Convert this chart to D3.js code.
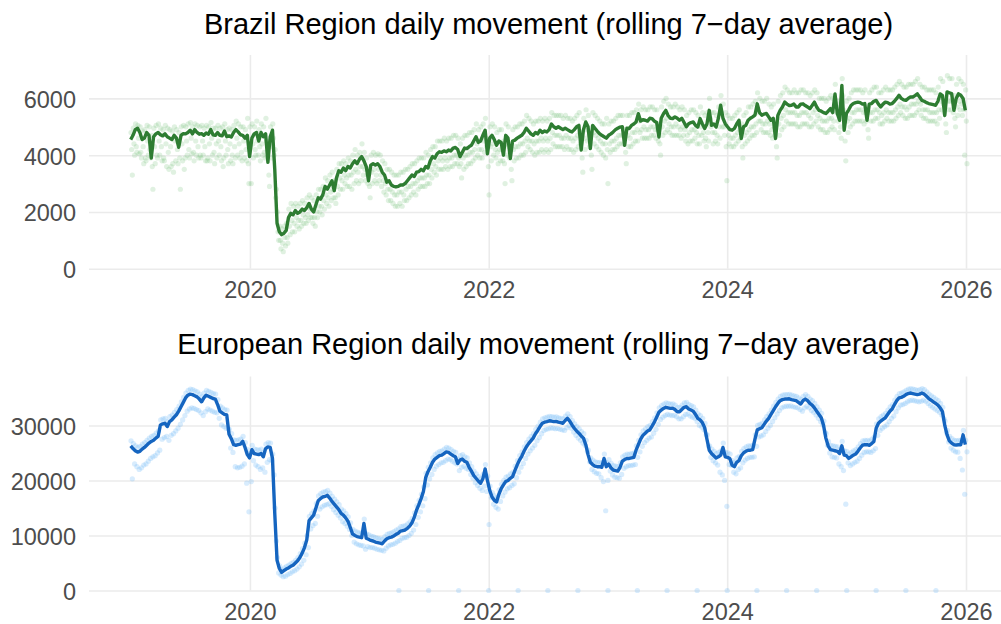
<!DOCTYPE html>
<html>
<head>
<meta charset="utf-8">
<script src="https://cdn.jsdelivr.net/npm/d3@7"></script>
<style>
  body { margin: 0; background: #fff; }
  svg { display: block; }
  text { font-family: "Liberation Sans", Arial, sans-serif; }
</style>
</head>
<body>
<div id="chart"></div>
<script>
// weekly samples, first one on 2019-01-01
var firstWeek = "2019-01-01";

var brTitle = "Brazil Region daily movement (rolling 7\u2212day average)";
var euTitle = "European Region daily movement (rolling 7\u2212day average)";

var yearTicks = ["2020-01-01", "2022-01-01", "2024-01-01", "2026-01-01"];
var brTicks = [0, 2000, 4000, 6000];
var euTicks = [0, 10000, 20000, 30000];

// Brazil: rolling average, one value per week
var brLine = [
  // 2019
  4550,4700,4900,4950,4800,4550,4600,4800,4700,3900,4650,4750,4800,4720,4680,4750,4650,4600,4550,4700,4600,4280,4700,4760,4750,4800,
  4880,4750,4900,4800,4740,4760,4700,4780,4740,4900,4720,4700,4800,4700,4680,4850,4650,4680,4640,4800,4900,4820,4720,4700,4600,4700,
  // 2020
  3950,4600,4750,4800,4500,4800,4650,4750,3750,4650,4880,3500,1600,1300,1200,1250,1350,1800,1950,1900,2050,1950,2000,2100,2050,2150,
  2300,2100,2000,2250,2500,2450,2600,2900,2800,2950,3100,2750,3200,3450,3400,3550,3450,3600,3550,3700,3800,3700,3850,3950,3800,3600,3100,
  // 2021
  3650,3700,3650,3700,3600,3400,3300,3050,3100,2950,2900,2880,2900,2950,2950,3000,3100,3200,3300,3250,3400,3420,3500,3450,3600,3550,
  3800,3950,3900,4050,4120,4100,4150,4120,4180,4150,4250,4270,4200,3950,4100,4250,4230,4300,4350,4500,4650,4450,4500,4700,4880,4050,
  // 2022
  4600,4700,4550,4350,4500,4450,4000,4700,4600,3880,4500,4530,4600,4650,4700,4800,4950,4850,4750,4700,4800,4750,4880,4800,4850,4820,
  4900,5100,5000,4950,5000,4950,4900,4950,4900,4850,4820,4900,5000,5050,4180,4900,5170,5000,4230,5050,4950,4850,4760,4700,4650,4600,
  // 2023
  4700,4750,4820,4900,4950,4990,5000,4350,4950,4940,5050,5100,5170,5460,5200,5250,5230,5200,5300,5290,5200,5150,4640,5300,5460,5580,
  5400,5300,5290,5350,5300,5230,5300,5150,5000,5110,5150,5170,5050,4990,5290,5100,4940,5100,5580,5050,5100,4990,5300,5760,5300,5110,
  // 2024
  5000,4900,4880,4940,5100,5230,4590,5000,5050,5230,5300,5350,5410,5810,5500,5410,5450,5470,5350,5230,5300,4590,5400,5580,5700,5870,
  5800,5750,5760,5800,5700,5700,5800,5810,5750,5700,5640,5750,5870,5700,5580,5550,5500,5470,5550,5640,5500,6160,5470,5230,6460,4880,
  // 2025
  5470,5600,5750,5820,5850,5870,5850,5800,5820,5230,5800,5820,5900,5930,5800,5700,5800,5870,5850,5800,5820,5900,6000,6110,6000,5950,
  5930,6000,6050,6050,6100,6160,6050,5930,5900,5850,5820,5800,5780,5760,5900,6160,6100,5400,6230,6200,6170,5580,6000,6160,6110,6000,5580
];

// Brazil: daily readings, a busy day, a middle day and a quiet day of each week
var brHigh = [
  4800,4950,5100,5050,5000,4850,4900,5050,5000,4700,4950,5050,5100,4950,4900,5050,4950,4900,4850,5000,4900,4800,5000,5050,5000,5100,
  5150,5000,5100,5050,5000,5050,4950,5050,5000,5150,4950,4950,5050,4950,5000,5100,4900,4950,4900,5050,5200,5100,5000,5000,4900,5300,
  5000,5100,5000,5200,4900,5100,5000,5300,4300,5000,5100,4200,2000,1500,1400,1500,1600,2100,2300,2200,2300,2200,2300,2400,2300,2500,
  2600,2500,2400,2600,2800,2800,2900,3200,3100,3300,3400,3100,3500,3700,3700,3800,3700,3900,3800,4000,4200,4000,4100,4400,4100,3900,3500,
  4000,4100,4000,4050,4000,3800,3700,3500,3500,3400,3300,3300,3300,3400,3400,3500,3500,3600,3700,3700,3800,3900,3900,3900,4100,4000,
  4200,4300,4300,4500,4500,4500,4600,4500,4600,4600,4700,4700,4600,4400,4600,4700,4700,4800,4800,4900,5100,4900,5000,5100,5300,4500,
  5000,5100,5000,4800,4900,4900,4500,5100,5000,4400,4900,5000,5000,5100,5100,5200,5400,5300,5200,5100,5200,5200,5300,5200,5300,5200,
  5300,5500,5400,5400,5400,5400,5300,5400,5300,5300,5200,5300,5400,5500,4800,5300,5600,5400,4800,5500,5400,5300,5200,5100,5100,5300,
  5100,5200,5200,5300,5400,5400,5400,4900,5400,5400,5500,5500,5600,5800,5600,5700,5600,5600,5700,5700,5600,5600,5100,5700,5900,6000,
  5800,5700,5700,5800,5700,5600,5700,5600,5400,5500,5600,5600,5500,5400,5700,5500,5400,5500,6000,5500,5500,5400,5700,6100,5800,5500,
  5400,5300,5300,5400,5500,5600,5100,5400,5500,5700,5700,5800,5900,6200,6000,5900,5900,6000,5800,5700,5800,5100,5900,6100,6200,6400,
  6300,6200,6200,6300,6200,6200,6300,6300,6200,6200,6100,6200,6300,6200,6000,6000,6000,5900,6000,6100,6000,6500,5900,5700,6700,5400,
  5900,6000,6200,6300,6300,6300,6300,6200,6300,5700,6200,6300,6400,6400,6200,6200,6300,6400,6300,6300,6300,6400,6500,6600,6500,6400,
  6400,6500,6500,6500,6600,6700,6500,6400,6400,6300,6300,6300,6300,6200,6400,6700,6600,5900,6800,6700,6700,6100,6500,6700,6600,6500,6300
];
var brMid = [
  4200,4400,4300,4600,4100,4300,3900,4500,4200,3600,4300,4000,4500,4300,3900,4400,4100,4300,3700,4500,4200,3900,4400,3500,4500,4200,
  4600,4100,4500,4300,4000,4500,4300,3800,4400,4600,4100,4400,4500,4300,3600,4500,4200,4400,4000,4300,4600,4400,4100,4500,4200,3700,
  4300,4400,4200,4500,4300,4400,4100,4500,3300,4300,4600,2500,1300,1000,900,1100,1100,1500,1700,1600,1800,1700,1700,1900,1800,1900,
  2100,1800,1800,2000,2200,2200,2400,2600,2500,2700,2800,2500,2900,3200,3100,3300,3200,3300,3300,3400,3500,3400,3600,3600,3500,3300,2900,
  3400,3500,3300,3500,3300,3100,3000,2800,2800,2700,2600,2600,2700,2700,2600,2800,2900,2900,3000,3000,3100,3200,3200,3200,3300,3300,
  3500,3700,3600,3800,3900,3800,3900,3800,3900,3900,4000,4000,3900,3700,3900,4000,4000,4100,4100,4200,4400,4200,4200,4500,4600,3600,
  4300,4400,4200,4100,4200,4200,3700,4400,4300,3500,4200,4300,4300,4400,4400,4500,4600,4500,4500,4400,4500,4500,4600,4500,4600,4500,
  4600,4800,4700,4700,4700,4600,4600,4700,4600,4600,4500,4600,4700,4800,3900,4600,4900,4700,4000,4800,4700,4600,4500,4400,4400,4200,
  4400,4500,4500,4600,4700,4700,4700,4100,4700,4600,4800,4800,4900,5200,4900,5000,4900,4900,5000,5000,4900,4900,4400,5000,5200,5300,
  5100,5000,5000,5100,5000,4900,5000,4900,4700,4800,4900,4900,4800,4700,5000,4800,4600,4800,5300,4800,4800,4700,5000,5500,5000,4300,
  4700,4600,4600,4700,4800,4900,4300,4700,4800,4900,5000,5000,5100,5500,5200,5100,5100,5200,5100,4900,5000,4300,5100,5300,5400,5600,
  5500,5500,5500,5500,5400,5400,5500,5500,5500,5400,5300,5500,5600,5400,5300,5200,5200,5200,5300,5300,5200,5800,5200,5000,6100,4500,
  5200,5300,5500,5500,5600,5600,5600,5500,5500,4900,5500,5500,5600,5600,5500,5400,5500,5600,5500,5500,5500,5600,5700,5800,5700,5700,
  5600,5700,5800,5800,5800,5900,5800,5600,5600,5600,5500,5500,5500,5500,5600,5900,5800,5100,5900,5900,5900,5300,5700,5900,5800,5600,5200
];
var brLow = [
  3300,4000,4100,4050,3900,3700,3800,4000,3900,2800,3700,3900,4000,3800,3800,3600,3500,3600,3400,3800,3700,2800,3800,3900,4000,3900,
  4050,3800,4000,3900,3900,4000,3800,3900,3800,4000,3700,3900,4000,3800,3900,4000,3700,3800,3700,3900,4000,3900,3800,3900,3800,3000,
  3000,3900,4000,4000,3800,4000,3900,3950,2900,3900,4000,2800,1000,700,600,800,900,1200,1300,1300,1500,1400,1500,1600,1600,1700,
  1800,1600,1500,1800,2000,1900,2100,2300,2200,2400,2500,2300,2600,2800,2800,3000,2900,2900,2800,3000,3100,3000,3100,3300,3100,3000,2500,
  3000,3100,3000,3100,2900,2700,2600,2400,2400,2300,2200,2200,2300,2200,2400,2400,2500,2600,2700,2600,2800,2900,2900,2900,3000,3000,
  3200,3400,3300,3500,3500,3500,3600,3500,3600,3600,3700,3700,3600,3200,3500,3600,3700,3700,3800,3900,4000,3900,3900,4100,4300,2600,
  3800,4000,3900,3700,3800,3800,3000,4000,3900,3100,3800,3900,3900,4000,4000,4100,4300,4200,4100,4000,4100,4100,4200,4100,4200,4100,
  4200,4400,4300,4300,4300,4300,4200,4300,4200,4200,4100,4200,4300,4400,3400,4200,4500,4300,3500,4400,4300,4200,4100,4000,3900,3000,
  4100,4200,4200,4300,4400,4400,4400,3700,4300,4300,4400,4500,4500,4800,4600,4600,4600,4600,4700,4700,4600,4500,4000,4700,4800,4900,
  4800,4700,4700,4700,4700,4600,4700,4500,4400,4500,4500,4600,4400,4400,4700,4500,4300,4500,5000,4400,4500,4400,4600,5000,4700,3100,
  4400,4300,4300,4400,4500,4600,3900,4400,4500,4600,4700,4700,4800,5200,4900,4800,4800,4800,4700,4600,4700,3900,4700,4900,5000,5200,
  5100,5100,5100,5100,5000,5000,5100,5100,5100,5000,5000,5100,5200,5000,4900,4900,4800,4800,4900,5000,4900,5500,4800,4600,5600,3800,
  4800,5000,5100,5200,5200,5200,5200,5100,5200,4600,5200,5200,5300,5300,5100,5100,5200,5300,5200,5200,5200,5300,5400,5500,5400,5300,
  5300,5400,5400,5400,5500,5600,5400,5300,5300,5200,5200,5200,5200,5100,5300,5600,5500,4800,5600,5600,5500,5000,5400,5600,5400,4000,3700
];

// Europe: rolling average, one value per week
var euLine = [
  // 2019
  26300,25800,25400,25150,25300,25700,26000,26400,26800,27100,27300,27700,28000,30100,30300,30400,29800,30700,31000,31500,31950,32600,33400,34200,35000,35500,
  35700,35600,35400,35200,34800,34300,35000,35500,35300,35100,34900,34800,33800,32600,32300,32000,31900,28400,27600,26500,26400,26500,26600,27100,26000,24700,
  // 2020
  24100,25600,24900,24800,24700,24900,24300,25800,26100,26000,24000,14000,5500,4000,3300,3600,3900,4100,4400,4600,5000,5400,6000,6800,7800,9200,
  12700,13200,13700,15000,16300,16700,17000,17100,17300,16800,16200,15700,15200,14700,14000,13700,13200,12600,11500,10300,10000,9800,9700,9600,12200,9500,9300,
  // 2021
  9100,9000,8800,8700,8600,8500,9000,9400,9600,9700,9900,10200,10400,10800,10900,11000,11300,11700,12300,13300,14600,15600,16700,18000,20500,21600,
  22400,23300,23900,24200,24500,24600,24900,25200,25100,24800,24500,24300,23100,23700,23900,23500,23300,22400,21700,20900,20400,19900,19500,20300,22100,20000,
  // 2022
  18200,17000,16400,16100,17500,18500,19200,19800,20000,20400,20700,21800,22800,23700,24400,25300,26100,26700,27200,27700,28500,29100,29800,30400,30600,30700,
  30850,30800,30700,30750,30600,30500,30400,30900,31300,30800,30100,29500,29000,28600,28100,27700,26500,24700,23300,22900,22600,22500,22500,22400,24000,22500,
  // 2023
  23000,22300,21900,21800,21700,22400,23500,23800,24000,24000,24100,24200,25500,26500,27500,28200,28600,29000,29200,29900,30600,31500,32400,32800,33100,33300,
  33200,33100,33150,32900,32500,32500,32900,33300,33400,33000,32800,32600,32000,31300,31000,30500,29600,27500,25500,24900,24500,24100,24300,24600,26000,24300,
  // 2024
  24200,24000,22800,22500,23300,23600,24500,25000,25300,25500,25500,25600,27500,29200,29400,29600,30200,30800,31300,32000,32700,33400,34000,34500,34700,34800,
  34800,34850,34700,34600,34500,34200,33900,34500,34800,34500,34000,33700,33200,32600,32000,31400,30000,27700,26300,25600,25500,25400,25300,24900,26300,24600,
  // 2025
  24500,24000,24300,24600,24800,25300,25900,26400,26500,26500,26400,26700,27100,29500,30400,30800,31100,31400,32000,32600,33000,33800,34500,35000,35100,35300,
  35600,35800,35900,35800,35700,35600,35700,35900,35700,35300,34900,34600,34300,34000,33700,33200,32500,30000,28300,27200,26800,26500,26450,26500,26500,28300,26500
];

var euHigh = [
  27200,26700,26300,26000,26200,26600,26900,27300,27700,28000,28200,28600,29000,31000,31200,31300,30700,31600,31900,32400,32900,33500,34300,35100,35900,36400,
  36600,36500,36300,36100,35700,35200,35900,36400,36200,36000,35800,35700,34700,33500,33200,32900,32800,29300,28500,27400,27300,27400,27500,28000,26900,25600,
  24900,26400,25700,25600,25500,25700,25100,26600,26900,26800,24800,15000,6000,4500,3800,4100,4400,4600,4900,5100,5500,6000,6700,7600,8600,10000,
  13500,14000,14500,15800,17200,17600,17900,18000,18200,17700,17100,16600,16100,15600,14800,14500,14000,13400,12300,11100,10800,10600,10500,10400,13000,10300,10100,
  9900,9800,9600,9500,9400,9300,9800,10200,10400,10500,10700,11000,11200,11600,11700,11800,12100,12500,13100,14100,15400,16400,17500,18800,21300,22400,
  23200,24100,24700,25000,25300,25400,25700,26000,25900,25600,25300,25100,23900,24500,24700,24300,24100,23200,22500,21700,21200,20700,20300,21100,22900,20800,
  19000,17800,17200,16900,18300,19300,20000,20600,20800,21200,21500,22600,23600,24500,25200,26100,26900,27500,28000,28500,29300,29900,30600,31200,31400,31500,
  31650,31600,31500,31550,31400,31300,31200,31700,32100,31600,30900,30300,29800,29400,28900,28500,27300,25500,24100,23700,23400,23300,23300,23200,24800,23300,
  23800,23100,22700,22600,22500,23200,24300,24600,24800,24800,24900,25000,26300,27300,28300,29000,29400,29800,30000,30700,31400,32300,33200,33600,33900,34100,
  34000,33900,33950,33700,33300,33300,33700,34100,34200,33800,33600,33400,32800,32100,31800,31300,30400,28300,26300,25700,25300,24900,25100,25400,26800,25100,
  25000,24800,23600,23300,24100,24400,25300,25800,26100,26300,26300,26400,28300,30000,30200,30400,31000,31600,32100,32800,33500,34200,34800,35300,35500,35600,
  35600,35650,35500,35400,35300,35000,34700,35300,35600,35300,34800,34500,34000,33400,32800,32200,30800,28500,27100,26400,26300,26200,26100,25700,27100,25400,
  25300,24800,25100,25400,25600,26100,26700,27200,27300,27300,27200,27500,27900,30300,31200,31600,31900,32200,32800,33400,33800,34600,35300,35800,35900,36100,
  36400,36600,36700,36600,36500,36400,36500,36700,36500,36100,35700,35400,35100,34800,34500,34000,33300,30800,29100,28000,27600,27300,27250,27300,27300,29100,27300
];
var euLow = [
  20300,23000,22500,22000,22300,22800,23000,23500,24000,24300,24500,25000,25500,27500,27800,28000,27300,28200,28500,29000,29500,30200,31000,31800,32600,33000,
  33200,33100,32900,32700,32300,31800,32500,33000,32800,32600,32400,32300,31300,30100,29800,29500,29400,25900,25100,22500,22300,22400,22600,23000,19500,14300,
  19800,23600,22800,22500,22000,22300,21500,23300,23800,23600,21000,9000,3200,2800,2500,2600,2900,3100,3400,3600,3900,4300,4800,5500,6500,7800,
  11200,11800,12200,13500,14800,15200,15500,15600,15800,15300,14700,14200,13700,13200,12500,12200,11700,11100,10000,8800,8500,8300,8200,8100,7500,8000,7800,
  7800,7700,7500,7400,7300,7200,7700,8100,8300,8400,8600,8900,9100,9500,9600,9700,10000,10400,11000,12000,13300,14300,15400,16700,19200,20300,
  21100,22000,22600,22900,23200,23300,23600,23900,23800,23500,23200,23000,21800,22400,22600,22200,22000,21100,20400,19600,19100,18600,18200,19000,18000,12000,
  16900,15700,15100,14800,16200,17200,17900,18500,18700,19100,19400,20500,21500,22400,23100,24000,24800,25400,25900,26400,27200,27800,28500,29100,29300,29400,
  29550,29500,29400,29450,29300,29200,29100,29600,30000,29500,28800,28200,27700,27300,26800,26400,25200,23400,22000,21600,21300,21200,20500,19800,14500,20000,
  21700,21000,20600,20500,20400,21100,22200,22500,22700,22700,22800,22900,24200,25200,26200,26900,27300,27700,27900,28600,29300,30200,31100,31500,31800,32000,
  31900,31800,31850,31600,31200,31200,31600,32000,32100,31700,31500,31300,30700,30000,29700,29200,28300,26200,24200,23600,23200,22800,21500,21000,20000,15300,
  22900,22700,21500,21200,22000,22300,23200,23700,24000,24200,24200,24300,26200,27900,28100,28300,28900,29500,30000,30700,31400,32100,32700,33200,33400,33500,
  33500,33550,33400,33300,33200,32900,32600,33200,33500,33200,32700,32400,31900,31300,30700,30100,28700,26400,25000,24300,24200,24100,23000,22500,21800,15700,
  23200,22700,23000,23300,23500,24000,24600,25100,25200,25200,25100,25400,25800,28200,29100,29500,29800,30100,30700,31300,31700,32500,33200,33700,33800,34000,
  34300,34500,34600,34500,34400,34300,34400,34600,34400,34000,33600,33300,33000,32700,32400,31900,31200,28700,27000,25900,25500,25200,25150,24000,21900,17500,25200
];

// Europe: days that were reported as zero
var euZeroDays = [
  "2021-04-01","2021-07-01","2021-10-01","2022-01-01","2022-04-01","2022-07-01","2022-10-01",
  "2023-01-01","2023-04-01","2023-07-01","2023-10-01","2024-01-01","2024-04-01","2024-07-01",
  "2024-10-01","2025-01-01","2025-04-01","2025-07-01","2025-10-01"
];

var width = 1001, height = 624;
var parse = d3.utcParse("%Y-%m-%d");
var start = parse(firstWeek);

function weekDay(i, shift) {
  return d3.utcDay.offset(start, i * 7 + shift);
}

var svg = d3.select("#chart").append("svg")
    .attr("width", width)
    .attr("height", height);

var x = d3.scaleUtc()
    .domain([parse("2019-01-01"), parse("2026-01-01")])
    .range([130.7, 966]);

var panelLeft = 89, panelRight = 1008;

function drawPanel(p) {
  var y = d3.scaleLinear().domain([0, p.yMax]).range([p.bottom, p.top]);
  var g = svg.append("g");

  // horizontal grid + y labels
  var yAxis = g.append("g")
      .attr("transform", "translate(" + panelLeft + ",0)")
      .call(d3.axisLeft(y).tickValues(p.ticks).tickFormat(d3.format("d"))
        .tickSize(-(panelRight - panelLeft)).tickPadding(13));
  yAxis.select(".domain").remove();
  yAxis.selectAll("line").attr("stroke", "#ebebeb").attr("stroke-width", 1.6);
  yAxis.selectAll("text")
      .attr("fill", "#4d4d4d")
      .attr("font-size", "23.5px")
      .attr("dy", "0.38em");

  // vertical grid + year labels
  var xAxis = g.append("g")
      .attr("transform", "translate(0," + p.bottom + ")")
      .call(d3.axisBottom(x).tickValues(yearTicks.map(parse)).tickFormat(d3.utcFormat("%Y"))
        .tickSize(-(p.bottom - p.top)).tickPadding(13));
  xAxis.select(".domain").remove();
  xAxis.selectAll("line").attr("stroke", "#ebebeb").attr("stroke-width", 1.6);
  xAxis.selectAll("text")
      .attr("fill", "#4d4d4d")
      .attr("font-size", "23.5px");

  // daily points
  var pts = [];
  p.high.forEach(function (v, i) { pts.push({ date: weekDay(i, 1), value: v }); });
  (p.mid || []).forEach(function (v, i) { pts.push({ date: weekDay(i, 3), value: v }); });
  p.low.forEach(function (v, i) { pts.push({ date: weekDay(i, 5), value: v }); });
  (p.zeros || []).forEach(function (d) { pts.push({ date: parse(d), value: 0 }); });

  g.append("g").selectAll("circle")
      .data(pts)
      .join("circle")
      .attr("cx", function (d) { return x(d.date); })
      .attr("cy", function (d) { return y(d.value); })
      .attr("r", 2.6)
      .attr("fill", p.pointColor)
      .attr("fill-opacity", p.pointAlpha);

  // rolling average
  var line = d3.line()
      .x(function (d, i) { return x(weekDay(i, 0)); })
      .y(function (d) { return y(d); });

  g.append("path")
      .datum(p.line)
      .attr("d", line)
      .attr("fill", "none")
      .attr("stroke", p.lineColor)
      .attr("stroke-width", 3.4)
      .attr("stroke-linejoin", "round");

  g.append("text")
      .attr("x", (panelLeft + panelRight) / 2)
      .attr("y", p.titleY)
      .attr("text-anchor", "middle")
      .attr("font-size", "29px")
      .attr("fill", "#000")
      .text(p.title);
}

drawPanel({
  title: brTitle, titleY: 34, top: 55, bottom: 268.7, yMax: 7530,
  ticks: brTicks, line: brLine, high: brHigh, mid: brMid, low: brLow,
  lineColor: "#2e7d32", pointColor: "#66bb6a", pointAlpha: 0.2
});

drawPanel({
  title: euTitle, titleY: 354, top: 376.5, bottom: 590.5, yMax: 38900,
  ticks: euTicks, line: euLine, high: euHigh, low: euLow, zeros: euZeroDays,
  lineColor: "#1565c0", pointColor: "#64b5f6", pointAlpha: 0.25
});
</script>
</body>
</html>
